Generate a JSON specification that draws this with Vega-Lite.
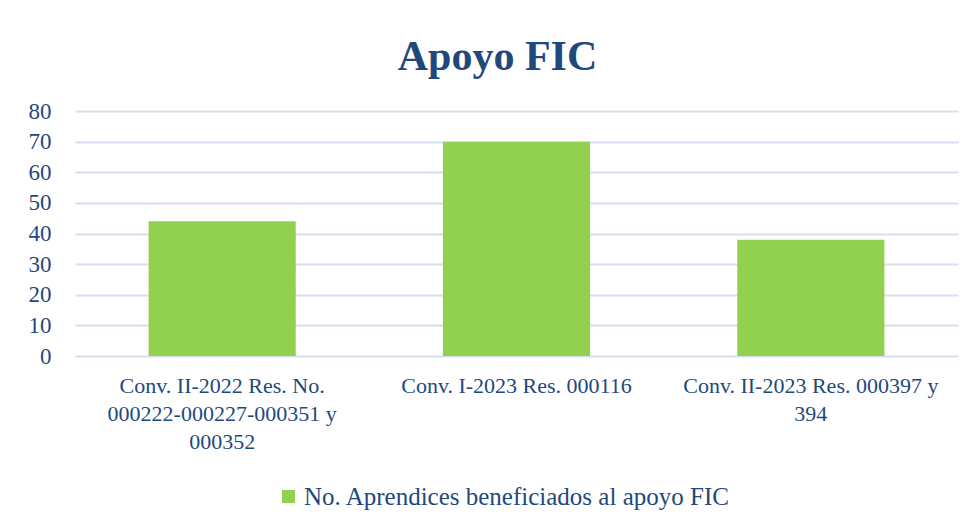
{
  "$schema": "https://vega.github.io/schema/vega-lite/v6.json",
  "width": 883,
  "height": 245,
  "autosize": {"type": "none"},
  "padding": {"left": 75, "top": 111, "right": 17, "bottom": 175},
  "background": "white",
  "title": {
    "text": "Apoyo FIC",
    "font": "Liberation Serif",
    "fontSize": 42,
    "fontWeight": "bold",
    "color": "#1F497D",
    "anchor": "middle",
    "dx": -19,
    "offset": 21
  },
  "data": {
    "values": [
      {"convocatoria": "Conv. II-2022 Res. No. 000222-000227-000351 y 000352", "serie": "No. Aprendices beneficiados al apoyo FIC", "aprendices": 44},
      {"convocatoria": "Conv. I-2023 Res. 000116", "serie": "No. Aprendices beneficiados al apoyo FIC", "aprendices": 70},
      {"convocatoria": "Conv. II-2023 Res. 000397 y 394", "serie": "No. Aprendices beneficiados al apoyo FIC", "aprendices": 38}
    ]
  },
  "mark": {"type": "bar"},
  "encoding": {
    "x": {
      "field": "convocatoria",
      "type": "nominal",
      "sort": null,
      "scale": {"paddingInner": 0.5, "paddingOuter": 0.25},
      "axis": {
        "title": null,
        "labelAngle": 0,
        "domain": false,
        "ticks": false,
        "labelPadding": 19,
        "labelFont": "Liberation Serif",
        "labelFontSize": 22,
        "labelColor": "#1F497D",
        "labelLineHeight": 28,
        "labelLimit": 400,
        "labelExpr": "datum.label == 'Conv. II-2022 Res. No. 000222-000227-000351 y 000352' ? ['Conv. II-2022 Res. No.', '000222-000227-000351 y', '000352'] : datum.label == 'Conv. II-2023 Res. 000397 y 394' ? ['Conv. II-2023 Res. 000397 y', '394'] : datum.label"
      }
    },
    "y": {
      "field": "aprendices",
      "type": "quantitative",
      "scale": {"domain": [0, 80]},
      "axis": {
        "title": null,
        "values": [0, 10, 20, 30, 40, 50, 60, 70, 80],
        "domain": false,
        "ticks": false,
        "labelPadding": 24,
        "labelFont": "Liberation Serif",
        "labelFontSize": 23,
        "labelColor": "#1F497D",
        "gridColor": "#D6E0F0",
        "gridWidth": 2
      }
    },
    "color": {
      "field": "serie",
      "type": "nominal",
      "scale": {"range": ["#92D050"]},
      "legend": {
        "title": null,
        "orient": "none",
        "legendX": 201,
        "legendY": 373,
        "symbolType": "square",
        "symbolSize": 170,
        "symbolOpacity": 1,
        "symbolOffset": 0,
        "labelOffset": 3,
        "labelFont": "Liberation Serif",
        "labelFontSize": 25,
        "labelColor": "#1F497D",
        "labelLimit": 600
      }
    }
  },
  "config": {"view": {"stroke": null}}
}
